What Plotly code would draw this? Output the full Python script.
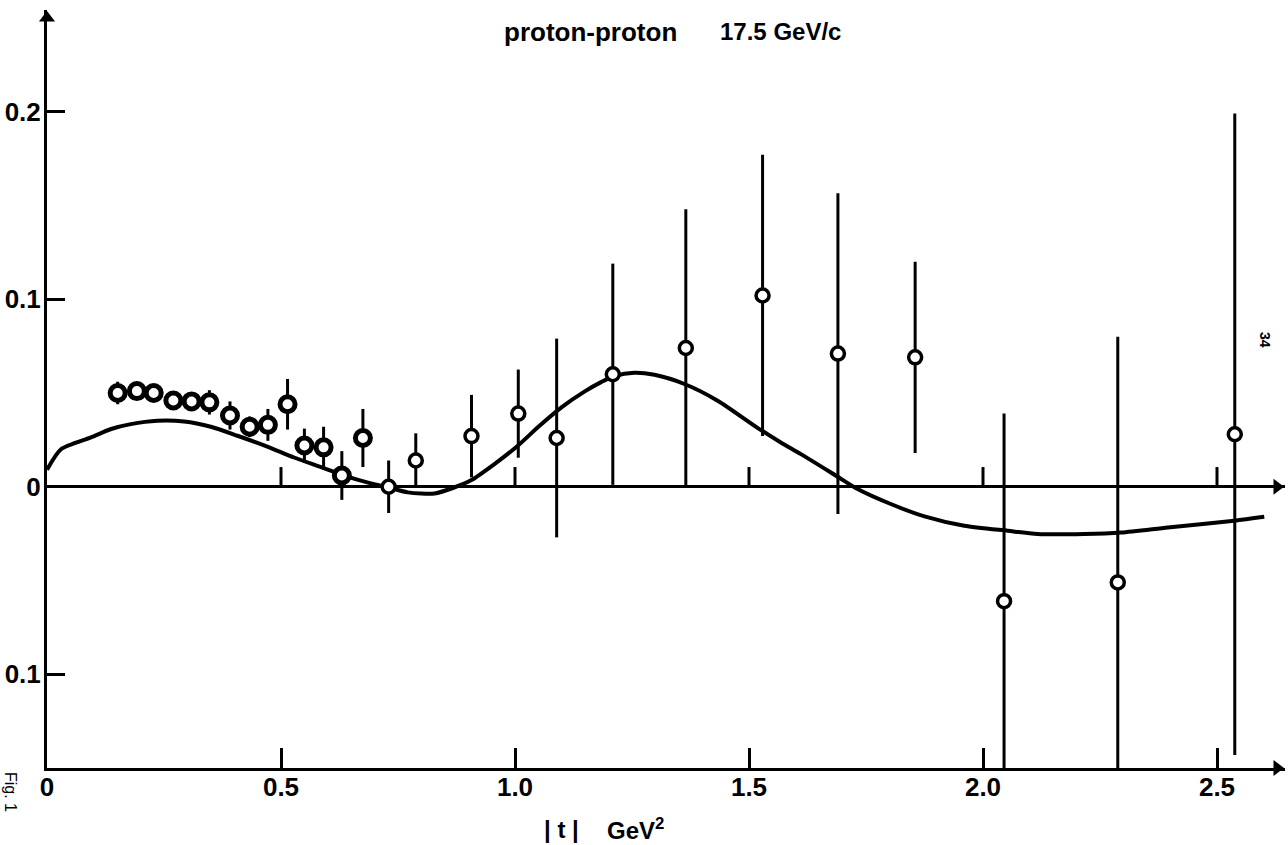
import plotly.graph_objects as go

# ---- data ----
t_points = [0.151, 0.192, 0.228, 0.270, 0.309, 0.347, 0.391, 0.433, 0.472, 0.514,
            0.550, 0.591, 0.630, 0.675, 0.730, 0.788, 0.907, 1.007, 1.089, 1.209,
            1.365, 1.529, 1.690, 1.855, 2.045, 2.288, 2.538]
p_values = [0.050, 0.051, 0.050, 0.046, 0.0455, 0.045, 0.038, 0.032, 0.033, 0.044,
            0.022, 0.021, 0.006, 0.026, 0.000, 0.014, 0.027, 0.039, 0.026, 0.060,
            0.074, 0.102, 0.071, 0.069, -0.061, -0.051, 0.028]
p_errors = [0.006, 0.004, 0.004, 0.005, 0.005, 0.0065, 0.0075, 0.0055, 0.0085, 0.0135,
            0.009, 0.011, 0.013, 0.0155, 0.014, 0.0145, 0.022, 0.0235, 0.053, 0.059,
            0.074, 0.075, 0.0855, 0.051, 0.100, 0.131, 0.171]

curve_t = [0.0, 0.03, 0.094, 0.137, 0.179, 0.236, 0.293, 0.350, 0.407, 0.472,
           0.528, 0.593, 0.635, 0.692, 0.724, 0.771, 0.828, 0.870, 0.907, 0.956,
           1.006, 1.050, 1.100, 1.150, 1.184, 1.212, 1.255, 1.298, 1.362, 1.433,
           1.519, 1.568, 1.611, 1.686, 1.732, 1.803, 1.875, 1.960, 2.053, 2.117,
           2.216, 2.295, 2.395, 2.537, 2.601]
curve_p = [0.009, 0.020, 0.0263, 0.0308, 0.0334, 0.0352, 0.0348, 0.032, 0.0272, 0.0213,
           0.0156, 0.0098, 0.0059, 0.0018, 0.0, -0.003, -0.0036, -0.0004, 0.0036, 0.0121,
           0.0219, 0.0320, 0.0425, 0.0510, 0.0558, 0.0590, 0.0608, 0.0597, 0.0548, 0.0459,
           0.0313, 0.0236, 0.0174, 0.0059, -0.0012, -0.0092, -0.0158, -0.0208, -0.0235, -0.0252,
           -0.0252, -0.0244, -0.0217, -0.0181, -0.016]

x_tick_vals = [0, 0.5, 1.0, 1.5, 2.0, 2.5]
x_tick_text = ["0", "0.5", "1.0", "1.5", "2.0", "2.5"]
y_tick_vals = [-0.1, 0, 0.1, 0.2]
y_tick_text = ["0.1", "0", "0.1", "0.2"]
zero_line_ticks = [0.5, 1.0, 1.5, 2.0, 2.5]

# ---- layout geometry ----
W, H = 1288, 845
L, R, T, B = 47, 3, 10, 77
PW, PH = W - L - R, H - T - B
XPX = 468.0      # pixels per unit of |t|
YPX = 1875.0     # pixels per unit of the ordinate
XMAX = PW / XPX
YMIN = -0.15
YMAX = YMIN + PH / YPX

FONT = "Liberation Sans"


def px(xp):
    return (xp - L) / PW


def py(yp):
    return (H - B - yp) / PH


# heavier, darker markers for the dense low-|t| points (as in the scan)
msize = [15 if t < 0.7 else 13 for t in t_points]
mline = [5 if t < 0.7 else 3.5 for t in t_points]

fig = go.Figure()

fig.add_trace(go.Scatter(
    x=curve_t, y=curve_p, mode="lines",
    line=dict(color="black", width=4, shape="spline", smoothing=0.7),
    hoverinfo="skip", showlegend=False))

fig.add_trace(go.Scatter(
    x=t_points, y=p_values, mode="markers",
    marker=dict(symbol="circle", size=msize, color="white", opacity=1,
                line=dict(color="black", width=mline)),
    error_y=dict(type="data", array=p_errors, visible=True,
                 thickness=3, width=0, color="black"),
    showlegend=False))

# arrow heads at the axis ends
fig.add_trace(go.Scatter(
    x=[0, XMAX - 8 / XPX, XMAX - 8 / XPX],
    y=[YMAX - 8 / YPX, 0, YMIN],
    mode="markers", cliponaxis=False,
    marker=dict(symbol=["triangle-up", "triangle-right", "triangle-right"],
                size=14, color="black", opacity=1, line=dict(width=0)),
    hoverinfo="skip", showlegend=False))

shapes = []
for tv in zero_line_ticks:
    shapes.append(dict(type="line", xref="x", yref="y", x0=tv, x1=tv,
                       y0=0, y1=0.0105, line=dict(color="black", width=3)))

annotations = [
    dict(xref="paper", yref="paper", x=px(502), y=py(32), xanchor="left", yanchor="middle",
         text="proton-proton", showarrow=False,
         font=dict(family=FONT, size=26, color="black", weight="bold")),
    dict(xref="paper", yref="paper", x=px(718), y=py(32), xanchor="left", yanchor="middle",
         text="17.5 GeV/c", showarrow=False,
         font=dict(family=FONT, size=24, color="black", weight="bold")),
    dict(xref="paper", yref="paper", x=px(561), y=py(829), xanchor="center", yanchor="middle",
         text="| t |", showarrow=False,
         font=dict(family=FONT, size=24, color="black", weight="bold")),
    dict(xref="paper", yref="paper", x=px(605), y=py(829), xanchor="left", yanchor="middle",
         text="GeV<sup>2</sup>", showarrow=False,
         font=dict(family=FONT, size=24, color="black", weight="bold")),
    dict(xref="paper", yref="paper", x=px(1265), y=py(340), xanchor="center", yanchor="middle",
         text="34", textangle=90, showarrow=False,
         font=dict(family=FONT, size=14, color="black", weight="bold")),
    dict(xref="paper", yref="paper", x=px(11), y=py(792), xanchor="center", yanchor="middle",
         text="Fig. 1", textangle=90, showarrow=False,
         font=dict(family=FONT, size=16, color="black")),
]

tickfont = dict(family=FONT, size=26, color="black", weight="bold")

fig.update_layout(
    width=W, height=H,
    margin=dict(l=L, r=R, t=T, b=B, pad=0),
    paper_bgcolor="white", plot_bgcolor="white",
    showlegend=False,
    shapes=shapes, annotations=annotations,
    xaxis=dict(range=[0, XMAX], showgrid=False, zeroline=False,
               showline=True, linecolor="black", linewidth=3,
               ticks="inside", ticklen=20, tickwidth=3, tickcolor="black",
               tickvals=x_tick_vals, ticktext=x_tick_text, tickfont=tickfont,
               ticklabelstandoff=-6, fixedrange=True),
    yaxis=dict(range=[YMIN, YMAX], showgrid=False,
               zeroline=True, zerolinecolor="black", zerolinewidth=3,
               showline=True, linecolor="black", linewidth=3,
               ticks="inside", ticklen=18, tickwidth=3, tickcolor="black",
               tickvals=y_tick_vals, ticktext=y_tick_text, tickfont=tickfont,
               ticklabelstandoff=-2, fixedrange=True),
)

fig.write_html("out.html")
